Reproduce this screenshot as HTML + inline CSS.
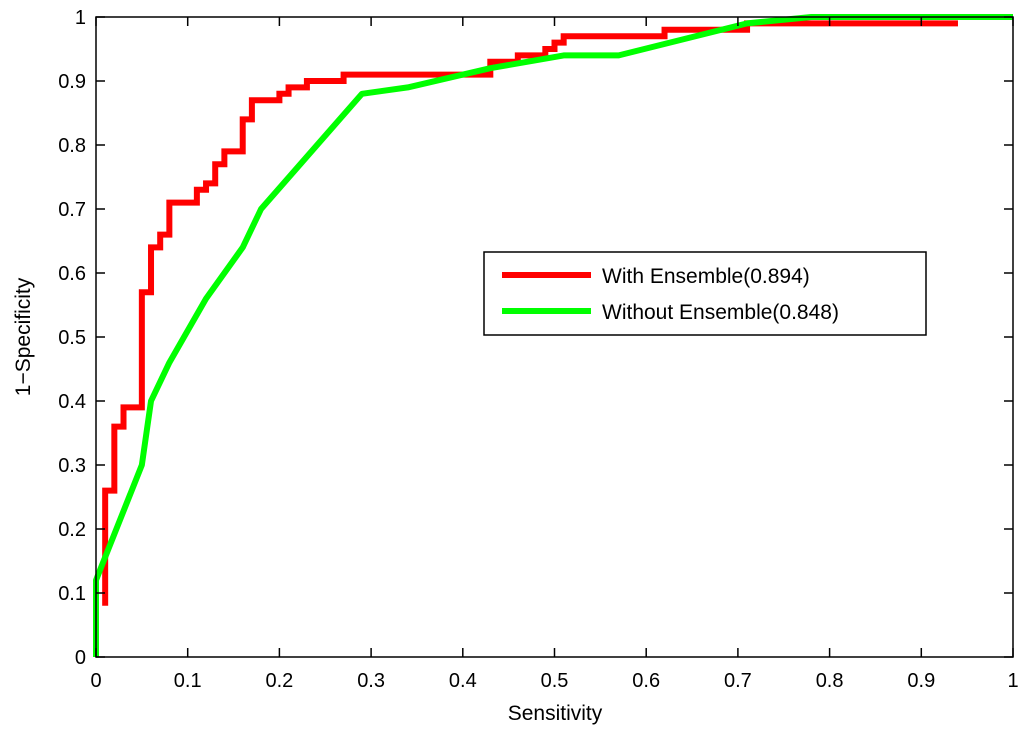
<!DOCTYPE html>
<html><head><meta charset="utf-8"><style>
body{margin:0;background:#fff;}
svg text{font-family:"Liberation Sans",sans-serif;fill:#000;}
</style></head><body>
<svg id="chart" width="1024" height="738" xmlns="http://www.w3.org/2000/svg">
<g id="plot"></g>
</svg>
<script>
const xTicks=[0,0.1,0.2,0.3,0.4,0.5,0.6,0.7,0.8,0.9,1];
const yTicks=[0,0.1,0.2,0.3,0.4,0.5,0.6,0.7,0.8,0.9,1];
const xTickLabels=["0","0.1","0.2","0.3","0.4","0.5","0.6","0.7","0.8","0.9","1"];
const yTickLabels=["0","0.1","0.2","0.3","0.4","0.5","0.6","0.7","0.8","0.9","1"];
// red step curve: [x, new y] at each step
const redX=[0.01,0.01,0.02,0.03,0.05,0.06,0.07,0.08,0.11,0.12,0.13,0.14,0.16,0.17,0.20,0.21,0.23,0.27,0.43,0.46,0.49,0.50,0.51,0.62,0.71,0.94];
const redY=[0.08,0.26,0.36,0.39,0.57,0.64,0.66,0.71,0.73,0.74,0.77,0.79,0.84,0.87,0.88,0.89,0.90,0.91,0.93,0.94,0.95,0.96,0.97,0.98,0.99,0.99];
const greenX=[0,0,0.05,0.06,0.08,0.12,0.16,0.18,0.29,0.34,0.43,0.51,0.57,0.71,0.78,1];
const greenY=[0,0.12,0.30,0.40,0.46,0.56,0.64,0.70,0.88,0.89,0.92,0.94,0.94,0.99,1,1];

const L=96,R=1013,T=17,B=657;
const sx=v=>L+v*(R-L), sy=v=>B-v*(B-T);
const NS="http://www.w3.org/2000/svg";
const g=document.getElementById('plot');
function mk(tag,attrs){const e=document.createElementNS(NS,tag);for(const k in attrs)e.setAttribute(k,attrs[k]);g.appendChild(e);return e;}

// series
let rp=`M${sx(redX[0])},${sy(redY[0])}`;
for(let i=1;i<redX.length;i++){rp+=` L${sx(redX[i])},${sy(redY[i-1])} L${sx(redX[i])},${sy(redY[i])}`;}
const red=mk('path',{d:rp,fill:'none',stroke:'#ff0000','stroke-width':6,'stroke-linejoin':'miter'});


let gp=greenX.map((x,i)=>(i?'L':'M')+sx(x)+','+sy(greenY[i])).join(' ');
const grn=mk('path',{d:gp,fill:'none',stroke:'#00ff00','stroke-width':6,'stroke-linejoin':'round'});



// axes box
const box=mk('rect',{x:L,y:T,width:R-L,height:B-T,fill:'none',stroke:'#000','stroke-width':1.5});


xTicks.forEach((v,i)=>{
  const x=sx(v);
  const t1=mk('line',{x1:x,y1:B,x2:x,y2:B-9,stroke:'#000','stroke-width':1.5});
  
  
  const t2=mk('line',{x1:x,y1:T,x2:x,y2:T+9,stroke:'#000','stroke-width':1.5});
  
  
  const tx=mk('text',{x:x,y:687,'font-size':20,'text-anchor':'middle'});
  tx.textContent=xTickLabels[i];
  
  
});
yTicks.forEach((v,i)=>{
  const y=sy(v);
  const t1=mk('line',{x1:L,y1:y,x2:L+9,y2:y,stroke:'#000','stroke-width':1.5});
  
  
  const t2=mk('line',{x1:R,y1:y,x2:R-9,y2:y,stroke:'#000','stroke-width':1.5});
  
  
  const tx=mk('text',{x:86,y:y+7,'font-size':20,'text-anchor':'end'});
  tx.textContent=yTickLabels[i];
  
  
});
const xt=mk('text',{x:555,y:720,'font-size':21,'text-anchor':'middle'});
xt.textContent='Sensitivity';


const yt=mk('text',{x:0,y:0,'font-size':21,'text-anchor':'middle',transform:'translate(30,337) rotate(-90)'});
yt.textContent='1\u2212Specificity';



// legend
const lg=mk('rect',{x:484,y:252,width:442,height:83,fill:'#fff',stroke:'#000','stroke-width':1.5});


const l1=mk('line',{x1:502,y1:275,x2:591,y2:275,stroke:'#ff0000','stroke-width':6});


const lt1=mk('text',{x:602,y:283,'font-size':21});
lt1.textContent='With Ensemble(0.894)';


const l2=mk('line',{x1:502,y1:311,x2:591,y2:311,stroke:'#00ff00','stroke-width':6});


const lt2=mk('text',{x:602,y:319,'font-size':21});
lt2.textContent='Without Ensemble(0.848)';


</script>
</body></html>
